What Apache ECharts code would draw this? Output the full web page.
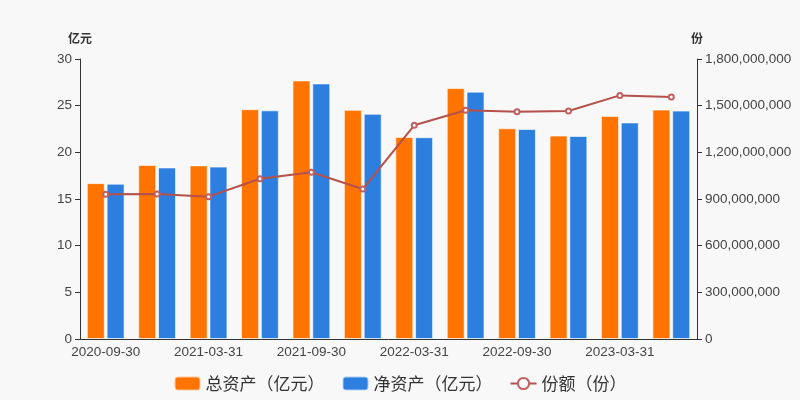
<!DOCTYPE html>
<html><head><meta charset="utf-8">
<script src="https://cdn.jsdelivr.net/npm/echarts@6/dist/echarts.min.js"></script>
<style>html,body{margin:0;padding:0;background:#f8f8f8;}#c{width:800px;height:400px;}</style>
</head><body><div id="c"></div>
<script>
var categories = ['2020-09-30','2020-12-31','2021-03-31','2021-06-30','2021-09-30','2021-12-31','2022-03-31','2022-06-30','2022-09-30','2022-12-31','2023-03-31','2023-06-30'];
var totalAssets = [16.7, 18.65, 18.6, 24.62, 27.7, 24.55, 21.65, 26.88, 22.58, 21.8, 23.9, 24.58];
var netAssets = [16.64, 18.38, 18.47, 24.5, 27.38, 24.13, 21.62, 26.5, 22.5, 21.75, 23.2, 24.47];
var shares = [930000000, 932000000, 915000000, 1030000000, 1072000000, 964000000, 1374000000, 1470000000, 1461000000, 1466000000, 1566000000, 1556000000];
var chart = echarts.init(document.getElementById('c'));
var cjk = '"Noto Sans CJK SC", sans-serif';
var lat = '"Liberation Sans", Arial, sans-serif';
chart.setOption({
  backgroundColor: '#f8f8f8',
  textStyle: {fontFamily: cjk},
  grid: {left: 80, right: 103, top: 59, bottom: 61},
  legend: {
    bottom: 3, left: 'center', itemWidth: 26, itemHeight: 14, itemGap: 17,
    textStyle: {fontSize: 17, color: '#333', fontFamily: cjk},
    data: ['总资产（亿元）', '净资产（亿元）', '份额（份）']
  },
  xAxis: {
    type: 'category', data: categories,
    axisLine: {lineStyle: {color: '#333'}},
    axisTick: {interval: 1, lineStyle: {color: '#333'}},
    axisLabel: {interval: 1, fontSize: 13.5, color: '#444', margin: 6, fontFamily: lat}
  },
  yAxis: [{
    type: 'value', name: '亿元', min: 0, max: 30, interval: 5,
    nameTextStyle: {fontWeight: 'bold', fontSize: 12, color: '#333'},
    axisLine: {show: true, lineStyle: {color: '#333'}},
    axisTick: {show: true},
    splitLine: {show: false},
    axisLabel: {fontSize: 13.5, color: '#444', fontFamily: lat}
  }, {
    type: 'value', name: '份', min: 0, max: 1800000000, interval: 300000000,
    nameTextStyle: {fontWeight: 'bold', fontSize: 12, color: '#333'},
    axisLine: {show: true, lineStyle: {color: '#333'}},
    axisTick: {show: true},
    splitLine: {show: false},
    axisLabel: {fontSize: 13.5, color: '#444', fontFamily: lat, formatter: function(v){return v.toLocaleString('en-US');}}
  }],
  series: [{
    name: '总资产（亿元）', type: 'bar', data: totalAssets, barWidth: 18, barGap: '10%',
    itemStyle: {color: '#ff7300', borderColor: 'rgba(255,255,255,0.6)', borderWidth: 1}
  }, {
    name: '净资产（亿元）', type: 'bar', data: netAssets, barWidth: 18,
    itemStyle: {color: '#2d7fdf', borderColor: 'rgba(255,255,255,0.6)', borderWidth: 1}
  }, {
    name: '份额（份）', type: 'line', yAxisIndex: 1, data: shares,
    symbol: 'emptyCircle', symbolSize: 5,
    lineStyle: {color: '#b5504a', width: 2},
    itemStyle: {color: '#c06060', borderColor: '#b5504a'}
  }]
});
</script></body></html>
